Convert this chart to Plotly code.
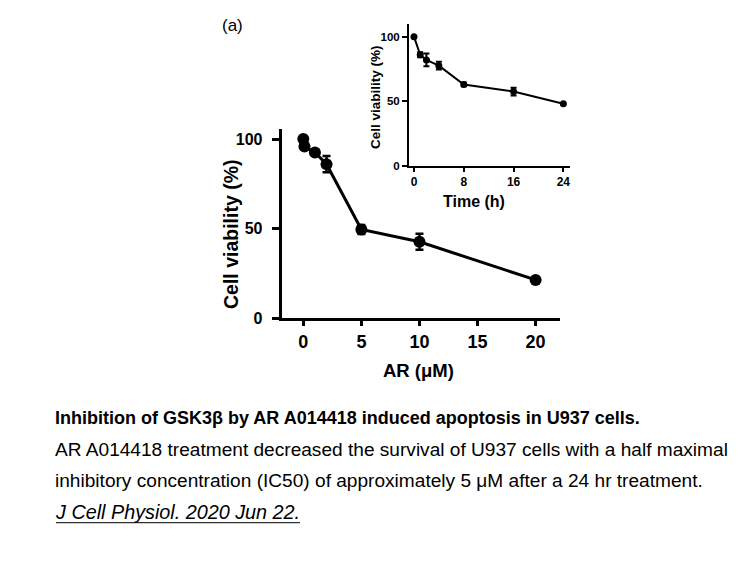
import plotly.graph_objects as go

# Main panel: cell viability vs AR concentration
ar_conc = [0, 0.1, 1, 2, 5, 10, 20]
ar_viab = [100, 95.8, 92.5, 86, 49.6, 42.7, 21.4]
ar_err = [0, 0, 0, 4.5, 2.5, 4.5, 0]

# Inset: cell viability vs time
time_h = [0, 1, 2, 4, 8, 16, 24]
time_viab = [100, 86, 82, 77.5, 63, 57.5, 48]
time_err = [0, 2, 5, 3, 1.5, 3, 0]

main_xticks = [0, 5, 10, 15, 20]
main_yticks = [0, 50, 100]
inset_xticks = [0, 8, 16, 24]
inset_yticks = [0, 50, 100]

W, H = 756, 567
OFFX = 8
OFFY = 4
FONT = "Liberation Sans, Arial, sans-serif"

def px(x):
    return (x - OFFX) / W

def py(y):
    return 1 - (y - OFFY) / H

fig = go.Figure()
fig.add_trace(go.Scatter(
    x=ar_conc, y=ar_viab, mode="lines+markers",
    line=dict(color="black", width=3),
    marker=dict(color="black", size=12),
    error_y=dict(type="data", array=ar_err, color="black", thickness=2.5, width=4),
    xaxis="x", yaxis="y", showlegend=False, cliponaxis=False,
))
fig.add_trace(go.Scatter(
    x=time_h, y=time_viab, mode="lines+markers",
    line=dict(color="black", width=2),
    marker=dict(color="black", size=7),
    error_y=dict(type="data", array=time_err, color="black", thickness=2, width=3),
    xaxis="x2", yaxis="y2", showlegend=False, cliponaxis=False,
))

axis_common = dict(showgrid=False, zeroline=False, showline=True, linecolor="black",
                   ticks="outside", tickcolor="black")

fig.update_layout(
    width=W, height=H,
    margin=dict(l=0, r=0, t=0, b=0),
    paper_bgcolor="white", plot_bgcolor="rgba(0,0,0,0)",
    font=dict(family=FONT, color="black"),
    xaxis=dict(**axis_common, domain=[px(281.7), px(560)], range=[-1.86, 22.1],
               tickvals=main_xticks, linewidth=3, tickwidth=2.5, ticklen=5,
               tickfont=dict(size=18, family=FONT, weight="bold"),
               anchor="y"),
    yaxis=dict(**axis_common, domain=[py(319.3), py(127)], range=[0, 105.6],
               tickvals=main_yticks, linewidth=3, tickwidth=2.5, ticklen=7,
               ticklabelstandoff=6,
               tickfont=dict(size=16, family=FONT, weight="bold"),
               anchor="x"),
    xaxis2=dict(**axis_common, domain=[px(409), px(570)], range=[-0.8, 25.07],
                tickvals=inset_xticks, linewidth=2, tickwidth=2, ticklen=4,
                tickfont=dict(size=12, family=FONT, weight="bold"),
                anchor="y2"),
    yaxis2=dict(**axis_common, domain=[py(164.3), py(20)], range=[0, 110],
                tickvals=inset_yticks, linewidth=2, tickwidth=2, ticklen=5,
                tickfont=dict(size=11.5, family=FONT, weight="bold"),
                anchor="x2"),
)

annots = [
    # axis titles
    dict(text="<b>Cell viability (%)</b>", x=231.7, y=234, size=19.5, angle=-90),
    dict(text="<b>AR (μM)</b>", x=418, y=372.7, size=18.5),
    dict(text="<b>Cell viability (%)</b>", x=375, y=94.5, size=13.5, angle=-90),
    dict(text="<b>Time (h)</b>", x=474, y=201, size=16),
    # panel label and caption
    dict(text="(a)", x=232, y=22, size=17),
    dict(text="<b>Inhibition of GSK3β by AR A014418 induced apoptosis in U937 cells.</b>",
         x=53, y=421, size=18, xanchor="left"),
    dict(text="AR A014418 treatment decreased the survival of U937 cells with a half maximal",
         x=53, y=453, size=19.1, xanchor="left"),
    dict(text="inhibitory concentration (IC50) of approximately 5 μM after a 24 hr treatment.",
         x=53, y=484.5, size=19.1, xanchor="left"),
    dict(text="<i>J Cell Physiol. 2020 Jun 22.</i>",
         x=53, y=516, size=19.8, xanchor="left"),
]
for a in annots:
    fig.add_annotation(text=a["text"], x=px(a["x"]), y=py(a["y"]), xref="paper", yref="paper",
                       xanchor=a.get("xanchor", "center"), yanchor="middle",
                       textangle=a.get("angle", 0),
                       showarrow=False, font=dict(size=a["size"], family=FONT, color="black"))

# underline for citation
fig.add_shape(type="line", xref="paper", yref="paper",
              x0=px(56), x1=px(300), y0=py(527), y1=py(527),
              line=dict(color="black", width=1))

fig.write_html("out.html")
